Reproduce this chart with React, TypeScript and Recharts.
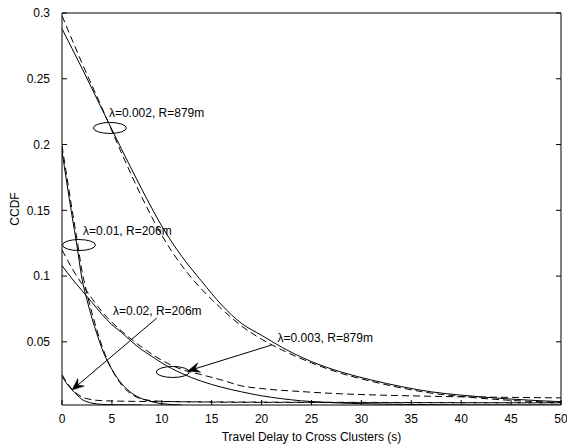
import { LineChart, Line, XAxis, YAxis, ReferenceDot, ReferenceLine } from 'recharts'

// axis ticks
const xTicks = [0, 5, 10, 15, 20, 25, 30, 35, 40, 45, 50]
const yTicks = [0.05, 0.1, 0.15, 0.2, 0.25, 0.3]

// lambda=0.002, R=879m
const delayA = [0, 2, 4, 6, 8, 10, 12, 14, 16, 18, 20, 22, 25, 28, 31, 34, 37, 40, 45, 50]
const ccdfA = [0.288, 0.258, 0.227, 0.196, 0.166, 0.138, 0.115, 0.096, 0.078, 0.064, 0.055, 0.046, 0.035, 0.027, 0.021, 0.016, 0.012, 0.0095, 0.0065, 0.0045]
const delayB = [0, 2, 4, 6, 8, 10, 12, 14, 16, 18, 20, 22, 25, 28, 31, 34, 37, 40, 45, 50]
const ccdfB = [0.298, 0.262, 0.228, 0.193, 0.16, 0.131, 0.108, 0.09, 0.075, 0.062, 0.052, 0.044, 0.034, 0.026, 0.02, 0.015, 0.011, 0.0085, 0.0055, 0.004]

// lambda=0.003, R=879m
const delayC = [0, 1, 2, 3, 4, 5, 6, 7, 8, 9, 10, 12, 14, 16, 18, 20, 22, 24, 26, 28, 30, 35, 40, 50]
const ccdfC = [0.108, 0.098, 0.089, 0.08, 0.071, 0.063, 0.057, 0.05, 0.044, 0.039, 0.034, 0.026, 0.02, 0.0155, 0.012, 0.009, 0.0068, 0.0052, 0.0042, 0.0035, 0.003, 0.0024, 0.0021, 0.002]
const delayD = [0, 1, 2, 3, 4, 6, 8, 10, 12, 14, 16, 18, 20, 24, 28, 32, 36, 40, 45, 50]
const ccdfD = [0.12, 0.106, 0.094, 0.083, 0.073, 0.058, 0.046, 0.036, 0.029, 0.025, 0.021, 0.0165, 0.0145, 0.0122, 0.0105, 0.0095, 0.0088, 0.0082, 0.0078, 0.0074]

// lambda=0.01, R=206m
const delayE = [0, 0.5, 1, 1.5, 2, 2.5, 3, 3.5, 4, 4.5, 5, 6, 7, 8, 9, 10, 12]
const ccdfE = [0.195, 0.17, 0.146, 0.123, 0.098, 0.082, 0.068, 0.056, 0.045, 0.036, 0.029, 0.018, 0.011, 0.0068, 0.0045, 0.003, 0.002]
const delayF = [0, 0.5, 1, 1.5, 2, 2.5, 3, 3.5, 4, 4.5, 5, 6, 7, 8, 10, 15, 20, 30, 40, 50]
const ccdfF = [0.199, 0.175, 0.151, 0.128, 0.104, 0.087, 0.072, 0.059, 0.047, 0.037, 0.029, 0.017, 0.01, 0.0065, 0.0048, 0.0042, 0.004, 0.0038, 0.0037, 0.0036]

// lambda=0.02, R=206m
const delayG = [0, 0.5, 1, 1.5, 2, 2.5, 3, 4, 5, 6, 8]
const ccdfG = [0.024, 0.018, 0.0135, 0.0098, 0.0062, 0.0045, 0.0034, 0.0025, 0.0022, 0.0021, 0.002]
const delayH = [0, 0.5, 1, 1.5, 2, 2.5, 3, 4, 6, 10, 20, 30, 40, 50]
const ccdfH = [0.025, 0.019, 0.014, 0.0105, 0.0082, 0.0068, 0.006, 0.0053, 0.0049, 0.0046, 0.0042, 0.004, 0.0038, 0.0037]

const toPoints = (xs: number[], ys: number[]) => xs.map((x, i) => ({ x, y: ys[i] }))

const series = [
  { id: 'a', data: toPoints(delayA, ccdfA), dashed: false },
  { id: 'b', data: toPoints(delayB, ccdfB), dashed: true },
  { id: 'c', data: toPoints(delayC, ccdfC), dashed: false },
  { id: 'd', data: toPoints(delayD, ccdfD), dashed: true },
  { id: 'e', data: toPoints(delayE, ccdfE), dashed: false },
  { id: 'f', data: toPoints(delayF, ccdfF), dashed: true },
  { id: 'g', data: toPoints(delayG, ccdfG), dashed: false },
  { id: 'h', data: toPoints(delayH, ccdfH), dashed: true },
]

// annotations, in data units
const ellipses = [
  { x: 4.8, y: 0.2126 },
  { x: 1.7, y: 0.1236 },
  { x: 11.1, y: 0.0271 },
]
const labels = [
  { x: 4.7, y: 0.224, text: 'λ=0.002, R=879m' },
  { x: 2.1, y: 0.1343, text: 'λ=0.01, R=206m' },
  { x: 5.1, y: 0.0735, text: 'λ=0.02, R=206m' },
  { x: 21.6, y: 0.0529, text: 'λ=0.003, R=879m' },
]
const arrows = [
  { from: { x: 9.5, y: 0.0681 }, to: { x: 1.0, y: 0.0134 } },
  { from: { x: 21.0, y: 0.0476 }, to: { x: 12.6, y: 0.0278 } },
]

const TICK = 5
const GAP_X = 9
const GAP_Y = 12

function Arrow(p: any) {
  const { x1, y1, x2, y2 } = p
  const ang = Math.atan2(y2 - y1, x2 - x1)
  const len = 12
  const half = 5
  const bx = x2 - Math.cos(ang) * len
  const by = y2 - Math.sin(ang) * len
  const nx = x2 - Math.cos(ang) * len * 0.65
  const ny = y2 - Math.sin(ang) * len * 0.65
  const px = -Math.sin(ang) * half
  const py = Math.cos(ang) * half
  const head = `${x2},${y2} ${bx + px},${by + py} ${nx},${ny} ${bx - px},${by - py}`
  return (
    <g>
      <line x1={x1} y1={y1} x2={nx} y2={ny} stroke="#000" strokeWidth={1} />
      <polygon points={head} fill="#000" stroke="#000" strokeWidth={0.5} />
    </g>
  )
}

// MATLAB-style inward ticks
function BottomTick(p: any) {
  const { x, y, payload } = p
  const base = y - GAP_X
  return (
    <g>
      <line x1={x} y1={base} x2={x} y2={base - TICK} stroke="#000" />
      <text x={x} y={y} dy="0.71em" textAnchor="middle" fontSize={12} fill="#000">{payload.value}</text>
    </g>
  )
}
function LeftTick(p: any) {
  const { x, y, payload } = p
  const base = x + GAP_Y
  return (
    <g>
      <line x1={base} y1={y} x2={base + TICK} y2={y} stroke="#000" />
      <text x={x} y={y} dy="0.355em" textAnchor="end" fontSize={12} fill="#000">{payload.value}</text>
    </g>
  )
}
function TopTick(p: any) {
  const { x, y } = p
  return <line x1={x} y1={y} x2={x} y2={y + TICK} stroke="#000" />
}
function RightTick(p: any) {
  const { x, y } = p
  return <line x1={x} y1={y} x2={x - TICK} y2={y} stroke="#000" />
}

export default function App() {
  return (
    <div style={{ position: 'absolute', left: 0, top: 0, fontFamily: '"Liberation Sans", Arial, Helvetica, sans-serif', fontSize: 12 }}>
      <LineChart width={567} height={445} margin={{ top: 12, right: 5, bottom: 0, left: 0 }}>
        <XAxis
          dataKey="x"
          type="number"
          domain={[0, 50]}
          ticks={xTicks}
          interval={0}
          allowDataOverflow
          height={40}
          tickSize={0}
          tickMargin={GAP_X}
          tickLine={false}
          tick={<BottomTick />}
          stroke="#000"
          label={{ value: 'Travel Delay to Cross Clusters (s)', position: 'insideBottom', offset: 4, fill: '#000', fontSize: 12 }}
        />
        <XAxis
          xAxisId="top"
          orientation="top"
          dataKey="x"
          type="number"
          domain={[0, 50]}
          ticks={xTicks}
          interval={0}
          height={1}
          tickSize={0}
          tickMargin={0}
          tickLine={false}
          tick={<TopTick />}
          stroke="#000"
        />
        <YAxis
          type="number"
          domain={[0.002, 0.3]}
          ticks={yTicks}
          interval={0}
          allowDataOverflow
          width={62}
          tickSize={0}
          tickMargin={GAP_Y}
          tickLine={false}
          tick={<LeftTick />}
          stroke="#000"
          label={{
            content: (props: any) => {
              const vb = props.viewBox || { x: 0, y: 13, width: 62, height: 392 }
              const cx = vb.x + 15
              const cy = vb.y + vb.height / 2
              return (
                <text x={cx} y={cy} transform={`rotate(-90 ${cx} ${cy})`} textAnchor="middle" dominantBaseline="central" fontSize={12} fill="#000">
                  CCDF
                </text>
              )
            },
          }}
        />
        <YAxis
          yAxisId="right"
          orientation="right"
          type="number"
          domain={[0.002, 0.3]}
          ticks={yTicks}
          interval={0}
          allowDataOverflow
          width={1}
          tickSize={0}
          tickMargin={0}
          tickLine={false}
          tick={<RightTick />}
          stroke="#000"
        />
        {series.map((s) => (
          <Line
            key={s.id}
            data={s.data}
            dataKey="y"
            type="monotone"
            stroke="#000"
            strokeWidth={1}
            strokeDasharray={s.dashed ? '7 4' : undefined}
            dot={false}
            activeDot={false}
            isAnimationActive={false}
          />
        ))}
        {ellipses.map((e, i) => (
          <ReferenceDot
            key={`el${i}`}
            x={e.x}
            y={e.y}
            r={1}
            shape={(p: any) => <ellipse cx={p.cx} cy={p.cy} rx={16.5} ry={5.5} fill="none" stroke="#000" strokeWidth={1} />}
          />
        ))}
        {arrows.map((a, i) => (
          <ReferenceLine key={`ar${i}`} segment={[a.from, a.to]} shape={(p: any) => <Arrow {...p} />} />
        ))}
        {labels.map((l, i) => (
          <ReferenceDot
            key={`lb${i}`}
            x={l.x}
            y={l.y}
            r={1}
            shape={(p: any) => (
              <text x={p.cx} y={p.cy} dominantBaseline="central" fontSize={12} fill="#000">
                {l.text}
              </text>
            )}
          />
        ))}
      </LineChart>
    </div>
  )
}
